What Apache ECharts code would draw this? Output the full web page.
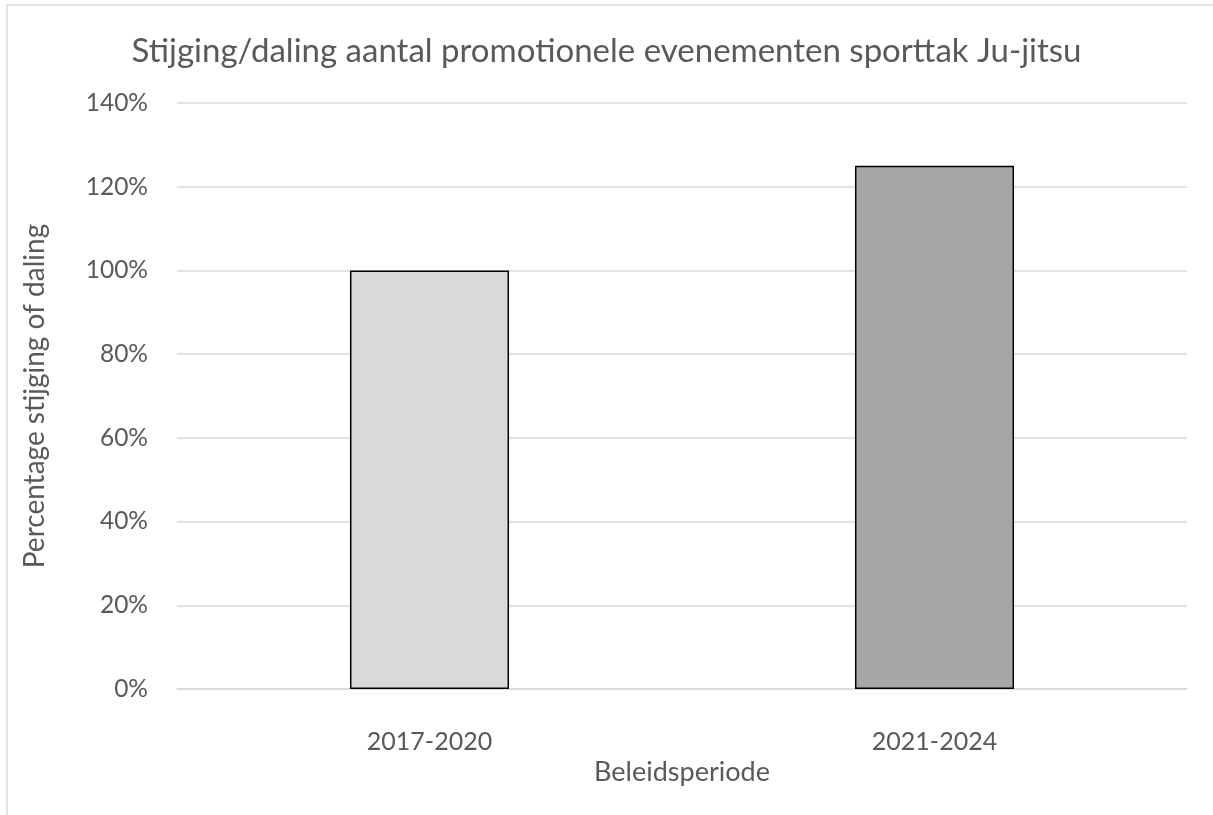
<!DOCTYPE html>
<html>
<head>
<meta charset="utf-8">
<script src="https://cdn.jsdelivr.net/npm/echarts@6/dist/echarts.min.js"></script>
<style>
html,body{margin:0;padding:0;background:#fff;}
#c{width:1213px;height:815px;}
</style>
</head>
<body>
<div id="c"></div>
<script>
const categories = ['2017-2020', '2021-2024'];
const values = [100, 125];
const barColors = ['#d9d9d9', '#a6a6a6'];
const yTicks = [0, 20, 40, 60, 80, 100, 120, 140];

const FONT = 'Lato';
const chart = echarts.init(document.getElementById('c'));
chart.setOption({
  animation: false,
  backgroundColor: '#fff',
  textStyle: { fontFamily: FONT },
  graphic: [{
    type: 'rect',
    shape: { x: 7, y: 5, width: 1300, height: 900 },
    style: { fill: 'none', stroke: '#d9d9d9', lineWidth: 1.5 },
    silent: true
  }],
  title: {
    text: 'Stijging/daling aantal promotionele evenementen sporttak Ju-jitsu',
    left: 'center',
    top: 30,
    textStyle: { fontFamily: FONT, fontSize: 33, fontWeight: 'normal', color: '#595959' }
  },
  grid: { left: 177, right: 26, top: 103, bottom: 126 },
  xAxis: {
    type: 'category',
    data: categories,
    name: 'Beleidsperiode',
    nameLocation: 'middle',
    nameGap: 70,
    nameTextStyle: { fontFamily: FONT, fontSize: 27, color: '#595959' },
    axisLine: { show: true, lineStyle: { color: '#d9d9d9', width: 1.5 } },
    axisTick: { show: false },
    axisLabel: { fontFamily: FONT, fontSize: 25, color: '#595959', margin: 42 - 2 },
  },
  yAxis: {
    type: 'value',
    min: yTicks[0],
    max: yTicks[yTicks.length - 1],
    interval: 20,
    name: 'Percentage stijging of daling',
    nameLocation: 'middle',
    nameGap: 128,
    nameTextStyle: { fontFamily: FONT, fontSize: 28, color: '#595959' },
    axisLine: { show: false },
    axisTick: { show: false },
    axisLabel: { fontFamily: FONT, fontSize: 24.5, color: '#595959', margin: 29, formatter: v => v + '%' },
    splitLine: { lineStyle: { color: '#d9d9d9', width: 1.5 } }
  },
  series: [{
    type: 'bar',
    barWidth: '31.5%',
    data: values.map((v, i) => ({ value: v, itemStyle: { color: barColors[i] } })),
    itemStyle: { borderColor: '#000', borderWidth: 1.5 }
  }]
});
</script>
</body>
</html>
